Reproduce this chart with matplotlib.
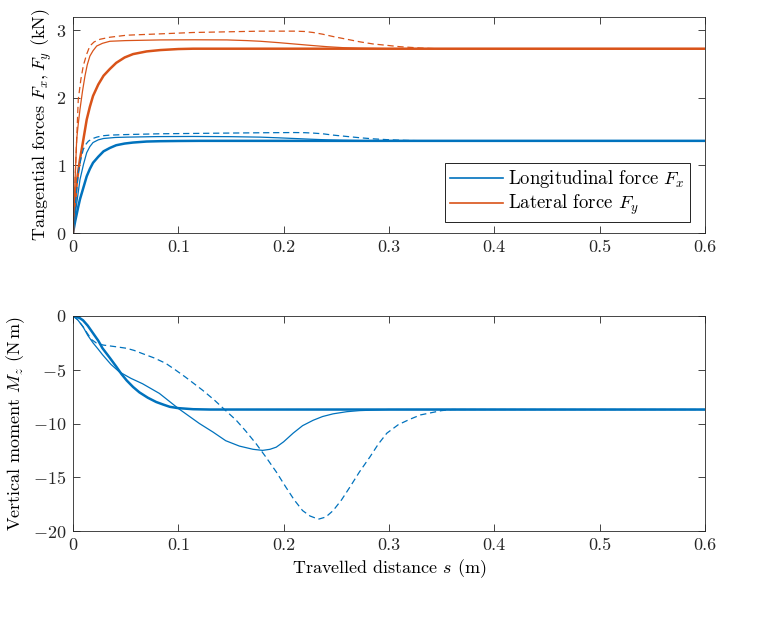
import matplotlib
matplotlib.use("Agg")
import matplotlib.pyplot as plt

plt.rcParams["font.family"] = "cmr10"
plt.rcParams["mathtext.fontset"] = "cm"
plt.rcParams["axes.formatter.use_mathtext"] = True
plt.rcParams["font.size"] = 13

BLUE = "#0072BD"
ORANGE = "#D95319"

# travelled distance (m) and forces (kN)
s_fx_thick = [0, 0.002, 0.0035, 0.005, 0.0066, 0.01, 0.013, 0.016, 0.019, 0.024, 0.029, 0.035, 0.041,
              0.049, 0.057, 0.07, 0.083, 0.1, 0.12, 0.6]
fx_thick = [0, 0.17, 0.28, 0.39, 0.5, 0.68, 0.84, 0.95, 1.04, 1.13, 1.21, 1.26, 1.30,
            1.325, 1.34, 1.355, 1.36, 1.363, 1.365, 1.365]
s_fx_thin = [0, 0.003, 0.0066, 0.01, 0.013, 0.016, 0.019, 0.024, 0.029, 0.04, 0.051, 0.08, 0.114, 0.15,
             0.178, 0.195, 0.21, 0.225, 0.241, 0.257, 0.273, 0.3, 0.6]
fx_thin = [0, 0.38, 0.79, 1.02, 1.19, 1.28, 1.34, 1.38, 1.40, 1.415, 1.42, 1.428, 1.43, 1.427,
           1.42, 1.41, 1.40, 1.39, 1.38, 1.373, 1.368, 1.365, 1.365]
s_fx_dash = [0, 0.003, 0.005, 0.0075, 0.0098, 0.012, 0.0146, 0.018, 0.0225, 0.028, 0.035, 0.05, 0.083,
             0.115, 0.146, 0.18, 0.21, 0.22, 0.228, 0.237, 0.247, 0.26, 0.273, 0.285, 0.298, 0.31,
             0.32, 0.335, 0.35, 0.6]
fx_dash = [0, 0.55, 0.89, 1.1, 1.24, 1.31, 1.36, 1.395, 1.42, 1.44, 1.45, 1.458, 1.47,
           1.475, 1.48, 1.485, 1.488, 1.486, 1.48, 1.47, 1.45, 1.43, 1.41, 1.395, 1.383, 1.375,
           1.37, 1.366, 1.365, 1.365]

s_fy_thick = [0, 0.0017, 0.0035, 0.005, 0.0066, 0.01, 0.013, 0.016, 0.019, 0.024, 0.029, 0.035, 0.041,
              0.049, 0.057, 0.07, 0.083, 0.1, 0.114, 0.6]
fy_thick = [0, 0.38, 0.74, 0.92, 1.09, 1.4, 1.68, 1.87, 2.03, 2.2, 2.33, 2.43, 2.52,
            2.6, 2.65, 2.69, 2.71, 2.725, 2.73, 2.73]
s_fy_thin = [0, 0.0017, 0.0035, 0.005, 0.0066, 0.009, 0.0114, 0.0135, 0.016, 0.019, 0.0225, 0.028, 0.035,
             0.05, 0.083, 0.115, 0.146, 0.165, 0.178, 0.195, 0.21, 0.225, 0.241, 0.257, 0.273, 0.3, 0.6]
fy_thin = [0, 0.7, 1.39, 1.62, 1.83, 2.1, 2.33, 2.49, 2.62, 2.7, 2.77, 2.81, 2.84,
           2.85, 2.86, 2.862, 2.86, 2.85, 2.84, 2.82, 2.80, 2.78, 2.76, 2.745, 2.737, 2.73, 2.73]
s_fy_dash = [0, 0.0025, 0.005, 0.0075, 0.0098, 0.013, 0.016, 0.02, 0.0257, 0.035, 0.051, 0.083, 0.114,
             0.146, 0.178, 0.21, 0.22, 0.228, 0.237, 0.247, 0.26, 0.273, 0.285, 0.298, 0.31, 0.32,
             0.33, 0.345, 0.6]
fy_dash = [0, 1.0, 1.98, 2.28, 2.48, 2.65, 2.77, 2.83, 2.87, 2.9, 2.93, 2.95, 2.97,
           2.98, 2.99, 2.99, 2.985, 2.97, 2.945, 2.91, 2.87, 2.83, 2.8, 2.78, 2.76, 2.75,
           2.74, 2.73, 2.73]

# vertical moment (N m)
s_mz_thick = [0, 0.003, 0.0065, 0.0095, 0.014, 0.019, 0.024, 0.028, 0.035, 0.041, 0.046, 0.051, 0.057,
              0.063, 0.071, 0.079, 0.086, 0.092, 0.1, 0.114, 0.13, 0.6]
mz_thick = [0, -0.05, -0.2, -0.4, -0.9, -1.6, -2.3, -3.0, -3.9, -4.7, -5.4, -6.0, -6.6,
            -7.1, -7.6, -8.0, -8.25, -8.45, -8.57, -8.67, -8.7, -8.7]
s_mz_thin = [0, 0.004, 0.0095, 0.014, 0.019, 0.024, 0.028, 0.036, 0.044, 0.055, 0.066, 0.074, 0.082,
             0.091, 0.1, 0.11, 0.12, 0.133, 0.145, 0.158, 0.171, 0.18, 0.187, 0.193, 0.2, 0.209,
             0.218, 0.228, 0.237, 0.247, 0.26, 0.272, 0.3, 0.6]
mz_thin = [0, -0.3, -1.0, -1.8, -2.5, -3.1, -3.6, -4.5, -5.2, -5.8, -6.3, -6.75, -7.2,
           -7.9, -8.6, -9.3, -10.0, -10.8, -11.6, -12.1, -12.4, -12.5, -12.4, -12.2, -11.7, -10.9,
           -10.2, -9.7, -9.35, -9.1, -8.9, -8.8, -8.7, -8.7]
s_mz_dash = [0, 0.005, 0.0095, 0.0135, 0.0177, 0.022, 0.0285, 0.04, 0.0507, 0.058, 0.066, 0.077, 0.088,
             0.097, 0.107, 0.115, 0.123, 0.134, 0.145, 0.155, 0.164, 0.174, 0.183, 0.193, 0.202,
             0.21, 0.218, 0.225, 0.233, 0.24, 0.247, 0.255, 0.263, 0.272, 0.282, 0.29, 0.298,
             0.309, 0.32, 0.33, 0.34, 0.35, 0.36, 0.6]
mz_dash = [0, -0.4, -1.0, -1.6, -2.2, -2.5, -2.7, -2.85, -3.0, -3.2, -3.5, -3.9, -4.4,
           -5.0, -5.7, -6.3, -6.9, -7.8, -8.8, -9.7, -10.7, -11.9, -13.1, -14.5, -15.9,
           -17.1, -18.1, -18.6, -18.9, -18.7, -18.1, -17.1, -15.9, -14.5, -13.1, -11.9, -10.9,
           -10.1, -9.6, -9.2, -9.0, -8.8, -8.7, -8.7]

fig = plt.figure(figsize=(7.67, 6.24), dpi=100)
ax1 = fig.add_axes([0.0952, 0.6266, 0.8238, 0.3462])
ax2 = fig.add_axes([0.0952, 0.149, 0.8238, 0.3446])

dash = (0, (5, 3))
ax1.plot(s_fx_thick, fx_thick, color=BLUE, lw=1.8, label="Longitudinal force $F_x$")
ax1.plot(s_fy_thick, fy_thick, color=ORANGE, lw=1.8, label="Lateral force $F_y$")
ax1.plot(s_fx_thin, fx_thin, color=BLUE, lw=0.9)
ax1.plot(s_fy_thin, fy_thin, color=ORANGE, lw=0.9)
ax1.plot(s_fx_dash, fx_dash, color=BLUE, lw=0.9, linestyle=dash)
ax1.plot(s_fy_dash, fy_dash, color=ORANGE, lw=0.9, linestyle=dash)

ax2.plot(s_mz_thick, mz_thick, color=BLUE, lw=1.8)
ax2.plot(s_mz_thin, mz_thin, color=BLUE, lw=0.9)
ax2.plot(s_mz_dash, mz_dash, color=BLUE, lw=0.9, linestyle=dash)

ax1.set_xlim(0, 0.6)
ax1.set_ylim(0, 3.2)
ax1.set_yticks([0, 1, 2, 3])
ax1.set_ylabel("Tangential forces $F_x, F_y$ (kN)", labelpad=1)

ax2.set_xlim(0, 0.6)
ax2.set_ylim(-20, 0)
ax2.set_yticks([-20, -15, -10, -5, 0])
ax2.set_ylabel(r"Vertical moment $M_z$ (N$\,$m)", labelpad=4)
ax2.set_xlabel("Travelled distance $s$ (m)", labelpad=3)

for ax in (ax1, ax2):
    ax.set_xticks([0, 0.1, 0.2, 0.3, 0.4, 0.5, 0.6])
    ax.set_xticklabels(["0", "0.1", "0.2", "0.3", "0.4", "0.5", "0.6"])
    ax.tick_params(direction="in", top=True, right=True, length=5, width=0.6, colors="#262626", pad=5)
    for sp in ax.spines.values():
        sp.set_linewidth(0.6)
        sp.set_color("#262626")

leg = ax1.legend(loc="lower right", bbox_to_anchor=(0.976, 0.051), fancybox=False, framealpha=1,
                 edgecolor="black", borderpad=0.25, handlelength=2.8, handletextpad=0.3,
                 labelspacing=0.15, borderaxespad=0, fontsize=13.5)
leg.get_frame().set_linewidth(0.6)
for line in leg.get_lines():
    line.set_linewidth(1.2)

fig.savefig("out.png", dpi=100)
